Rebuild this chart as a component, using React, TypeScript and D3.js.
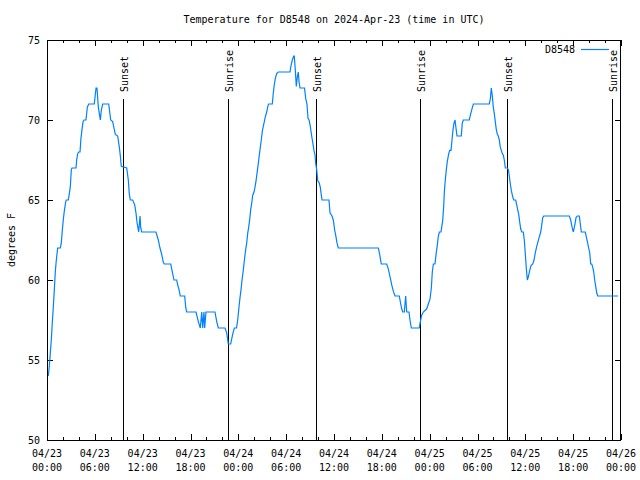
import React from "react";
import * as d3 from "d3";

// Temperature readings: [hours since 2024-04-23 00:00 UTC, degrees F]
const day1Readings: [number, number][] = [
  [0.16,54],[0.29,54.6],[0.41,55.4],[0.54,56.25],[0.66,57.3],[0.79,58.3],[0.92,59.4],[1.04,60.5],[1.17,61.25],[1.34,62],[1.67,62],[1.79,62.3],[1.92,63.1],[2.04,63.75],[2.17,64.3],[2.35,64.9],[2.42,65],[2.67,65],[2.80,65.4],[2.92,65.8],[3.05,66.9],[3.14,67],[3.64,67],[3.72,67.5],[3.85,67.9],[3.98,68],[4.14,68],[4.26,68.85],[4.39,69.4],[4.52,69.9],[4.64,70],[4.89,70],[5.06,70.8],[5.23,71],[5.93,71],[6.15,72],[6.27,72],[6.44,70.8],[6.69,70],[6.81,70.6],[6.99,71],[7.74,71],[7.99,70],[8.24,69.9],[8.40,69.5],[8.57,69.1],[8.87,69],[9.07,68.3],[9.19,67.8],[9.32,67.1],[10.00,67],[10.20,66.25],[10.32,65.4],[10.45,65],[10.75,65],[11.00,64.7],[11.16,64.2],[11.29,63.6],[11.50,63],[11.67,64],[11.75,63.3],[11.88,63],[13.67,63],[13.96,62.5],[14.17,62],[14.39,61.6],[14.59,61.1],[14.71,61],[15.52,61],[15.68,60.6],[15.93,60],[16.27,60],[16.39,59.7],[16.56,59.4],[16.72,59],[17.27,59],[17.40,58.3],[17.52,58],[18.69,58],[18.98,57.4],[19.23,57],[19.41,58],[19.53,57],[19.69,58],[19.78,57],[19.94,58],[21.07,58],[21.29,57.4],[21.49,57],[22.33,57],[22.54,56.7],[22.74,56],[23.04,56],[23.29,56.6],[23.50,57],[23.77,57],[23.92,57.5],
];
const day2Readings: [number, number][] = [
  [24.08,58.3],[24.21,58.9],[24.34,59.4],[24.46,60],[24.62,60.6],[24.75,61.2],[24.92,61.9],[25.05,62.3],[25.17,62.9],[25.30,63.3],[25.43,63.8],[25.55,64.4],[25.68,64.8],[25.80,65.3],[25.97,65.5],[26.09,65.8],[26.22,66.2],[26.38,66.8],[26.51,67.3],[26.63,67.8],[26.76,68.3],[26.88,68.75],[27.01,69.3],[27.13,69.6],[27.26,69.9],[27.38,70.2],[27.56,70.5],[27.72,70.9],[27.81,71],[28.26,71],[28.39,71.7],[28.51,72.2],[28.64,72.6],[28.81,72.9],[29.01,73],[30.48,73],[30.61,73.4],[30.77,73.75],[30.95,74],[31.02,74],[31.15,73.1],[31.27,72.1],[31.40,72.7],[31.52,73],[31.61,72.4],[31.74,72],[32.30,72],[32.45,71.35],[32.61,71],[32.74,70.1],[32.87,70],[33.03,69.6],[33.20,69],[33.33,68.6],[33.49,68.1],[33.62,67.8],[33.70,67.3],[33.83,66.9],[33.96,66.2],[34.12,66.1],[34.28,65.8],[34.41,65.3],[34.50,65],[35.37,65],[35.50,64.2],[35.75,64],[35.91,63.75],[36.09,63.1],[36.25,62.7],[36.38,62.3],[36.54,62],[41.56,62],[41.73,61.6],[41.93,61],[42.61,61],[42.81,60.7],[43.03,60.2],[43.24,59.7],[43.44,59.3],[43.65,59],[44.19,59],[44.37,58.5],[44.49,58.2],[44.62,58],[44.82,58],[44.99,59],[45.12,58],[45.41,58],[45.53,57.5],[45.70,57],[46.70,57],[46.83,57.4],[47.00,57.8],[47.20,58],[47.63,58.2],[47.83,58.5],
];
const day3Readings: [number, number][] = [
  [48.04,58.8],[48.21,59.5],[48.33,60.5],[48.46,61],[48.67,61],[48.80,61.6],[48.96,62.2],[49.08,62.7],[49.21,63],[49.42,63],[49.51,63.3],[49.64,63.75],[49.76,64.6],[49.84,65.5],[49.96,66.25],[50.09,66.9],[50.21,67.4],[50.39,67.9],[50.51,68.1],[50.68,68.1],[50.80,68.75],[50.93,69.4],[51.05,69.8],[51.18,70],[51.30,69.5],[51.43,69],[51.97,69],[52.09,69.8],[52.22,70],[52.97,70],[53.15,70.4],[53.31,70.7],[53.48,71],[55.48,71],[55.61,71.3],[55.73,72],[55.86,71.5],[55.98,70.8],[56.11,70.4],[56.23,69.9],[56.36,69.4],[56.49,69.1],[56.61,69],[56.74,68.75],[56.86,68.3],[56.99,68.1],[57.11,67.9],[57.24,67.8],[57.36,67.5],[57.49,67],[57.74,67],[57.87,66.9],[57.99,66.5],[58.12,66],[58.24,65.6],[58.42,65.2],[58.54,65],[58.79,65],[58.92,64.7],[59.04,64.4],[59.17,64.1],[59.30,63.6],[59.42,63.2],[59.55,63],[59.75,63],[59.87,62.5],[60.00,61.6],[60.12,60.75],[60.25,60],[60.38,60.2],[60.55,60.6],[60.71,60.9],[60.93,61],[61.09,61.25],[61.25,61.7],[61.43,62.1],[61.59,62.4],[61.75,62.7],[61.93,63],[62.05,63.4],[62.18,63.9],[62.31,64],[65.52,64],[65.69,63.75],[65.86,63.3],[66.02,63],[66.19,63.4],[66.36,63.9],[66.52,64],[66.77,64],[66.90,63.5],[67.02,63],[67.52,63],[67.65,62.7],[67.78,62.4],[67.95,62],[68.08,61.7],[68.20,61],[68.33,61],[68.45,60.8],[68.58,60.5],[68.70,60],[68.83,59.6],[68.95,59.2],[69.08,59],[71.63,59],
];

const sunHours = [9.57, 22.75, 33.68, 46.83, 57.74, 70.91];
const sunLabels = ["Sunset", "Sunrise", "Sunset", "Sunrise", "Sunset", "Sunrise"];
const yTicks = [50, 55, 60, 65, 70, 75];
const TITLE = "Temperature for D8548 on 2024-Apr-23 (time in UTC)";
const Y_LABEL = "degrees F";
const SERIES = "D8548";

const BASE = Date.UTC(2024, 3, 23);
const hoursToDate = (h: number) => new Date(BASE + h * 3600e3);

const W = 640, H = 480;
const L = 47, R = 621, T = 40, B = 440;
const FONT = "'DejaVu Sans Mono', 'Liberation Mono', monospace";
const COLOR = "#0080ff";

export default function App() {
  const x = d3.scaleUtc().domain([hoursToDate(0), hoursToDate(72)]).range([L, R]);
  const y = d3.scaleLinear().domain([50, 75]).range([B, T]);
  const readings = [...day1Readings, ...day2Readings, ...day3Readings];
  const line = d3.line<[number, number]>()
    .x((d) => x(hoursToDate(d[0])))
    .y((d) => y(d[1]));
  const major = x.ticks(d3.utcHour.every(6)!);
  const minor = d3.utcHour.every(2)!.range(hoursToDate(0), hoursToDate(72.01))
    .filter((d) => d.getUTCHours() % 6 !== 0);
  const fmtDate = d3.utcFormat("%m/%d");
  const fmtTime = d3.utcFormat("%H:%M");
  const px = (v: number) => Math.round(v) + 0.5;

  return (
    <svg width={W} height={H} style={{ position: "absolute", left: 0, top: 0, background: "#fff" }}
      fontFamily={FONT} fontSize={10}>
      <rect x={0} y={0} width={W} height={H} fill="#fff" />
      <text x={334} y={23} textAnchor="middle">{TITLE}</text>
      {/* ticks */}
      <g stroke="#000" strokeWidth={1}>
        {major.map((d, i) => (
          <g key={"M" + i}>
            <line x1={px(x(d))} x2={px(x(d))} y1={B} y2={B - 6} />
            <line x1={px(x(d))} x2={px(x(d))} y1={T} y2={T + 6} />
          </g>
        ))}
        {minor.map((d, i) => (
          <g key={"m" + i}>
            <line x1={px(x(d))} x2={px(x(d))} y1={B} y2={B - 3} />
            <line x1={px(x(d))} x2={px(x(d))} y1={T} y2={T + 3} />
          </g>
        ))}
        {yTicks.map((v) => (
          <g key={"y" + v}>
            <line x1={L} x2={L + 6} y1={px(y(v))} y2={px(y(v))} />
            <line x1={R - 6} x2={R} y1={px(y(v))} y2={px(y(v))} />
          </g>
        ))}
      </g>
      {yTicks.map((v) => (
        <text key={"yl" + v} x={40} y={y(v) + 4} textAnchor="end">{v}</text>
      ))}
      {major.map((d, i) => (
        <g key={"xl" + i}>
          <text x={x(d)} y={457} textAnchor="middle">{fmtDate(d)}</text>
          <text x={x(d)} y={471} textAnchor="middle">{fmtTime(d)}</text>
        </g>
      ))}
      <text transform="translate(15,240) rotate(-90)" textAnchor="middle">{Y_LABEL}</text>
      {/* sun events */}
      {sunHours.map((h, i) => {
        const sx = px(x(hoursToDate(h)));
        return (
          <g key={"s" + i}>
            <line x1={sx} x2={sx} y1={99} y2={B} stroke="#000" strokeWidth={1} />
            <text transform={`translate(${sx + 4},92) rotate(-90)`} textAnchor="start">{sunLabels[i]}</text>
          </g>
        );
      })}
      <path d={line(readings) ?? ""} fill="none" stroke={COLOR} strokeWidth={1.2} />
      {/* legend */}
      <text x={575} y={53} textAnchor="end">{SERIES}</text>
      <line x1={581} x2={609} y1={49.5} y2={49.5} stroke={COLOR} strokeWidth={1.2} />
      {/* frame */}
      <rect x={L + 0.5} y={T + 0.5} width={R - L - 1} height={B - T} fill="none" stroke="#000" strokeWidth={1} />
    </svg>
  );
}
